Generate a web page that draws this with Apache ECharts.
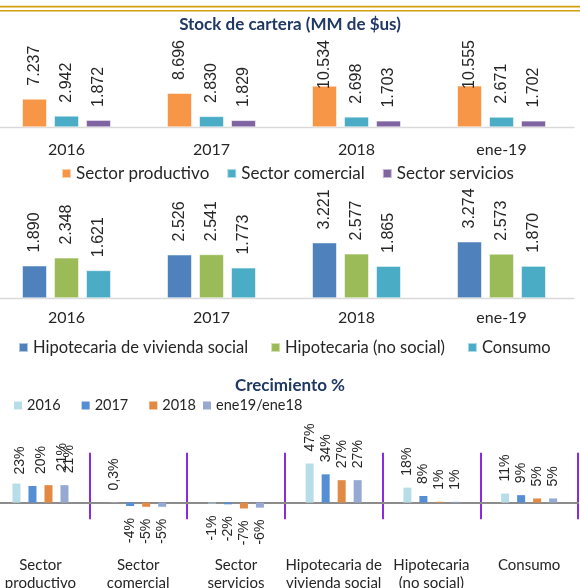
<!DOCTYPE html>
<html><head><meta charset="utf-8">
<script src="https://cdn.jsdelivr.net/npm/echarts@6/dist/echarts.min.js"></script>
<style>html,body{margin:0;padding:0;background:#fff}#c{width:580px;height:588px}</style>
</head><body><div id="c"></div>
<script>
// ---- data ----
const years = ['2016', '2017', '2018', 'ene-19'];
const stockTitle = 'Stock de cartera (MM de $us)';
const sectorProductivo = [7.237, 8.696, 10.534, 10.555];
const sectorComercial = [2.942, 2.830, 2.698, 2.671];
const sectorServicios = [1.872, 1.829, 1.703, 1.702];
const hipotecariaSocial = [1.890, 2.526, 3.221, 3.274];
const hipotecariaNoSocial = [2.348, 2.541, 2.577, 2.573];
const consumo = [1.621, 1.773, 1.865, 1.870];

const growthTitle = 'Crecimiento %';
const growthCategories = ['Sector\nproductivo', 'Sector\ncomercial', 'Sector\nservicios',
  'Hipotecaria de\nvivienda social', 'Hipotecaria\n(no social)', 'Consumo'];
const growth2016 = [23, 0.3, -1, 47, 18, 11];
const growth2017 = [20, -4, -2, 34, 8, 9];
const growth2018 = [21, -5, -7, 27, 1, 5];
const growthEne = [21, -5, -6, 27, 1, 5];

// ---- styling / layout ----
const LATO = 'Lato, "Noto Sans", sans-serif';
const ARIAL = '"Liberation Sans", Arial, sans-serif';
const labelColor = '#262626';
const GRIDS = [
  { left: -6, width: 580, top: 40, height: 87.3, min: 0, max: 22.1, clampTop: 40 },
  { left: -6, width: 580, top: 190, height: 108.3, min: 0, max: 6.24, clampTop: 188 },
  { left: -8.4, width: 586.4, top: 452.7, height: 66.6, min: -20, max: 60 }
];
const measureCtx = document.createElement('canvas').getContext('2d');
function textLen(s, px) { measureCtx.font = px + 'px "Liberation Sans"'; return measureCtx.measureText(s).width; }
function fmtStock(v) { return v.toFixed(3); }

function stockSeries(name, data, color, gi) {
  const g = GRIDS[gi];
  const ppu = g.height / (g.max - g.min);
  const base = g.top + g.height;
  const dist = 13;
  return {
    type: 'bar', name: name, xAxisIndex: gi, yAxisIndex: gi,
    barWidth: 25, barGap: '28%',
    itemStyle: { color: color, borderColor: 'rgba(255,255,255,0.55)', borderWidth: 1 },
    data: data.map(function (v) {
      const barTop = base - v * ppu;
      const labTop = barTop - dist - textLen(fmtStock(v), 16);
      const d = labTop < g.clampTop ? dist - (g.clampTop - labTop) : dist;
      return { value: v, label: { distance: d } };
    }),
    label: {
      show: true, position: 'top', rotate: 90, align: 'left', verticalAlign: 'middle',
      fontFamily: ARIAL, fontSize: 16, color: labelColor,
      formatter: function (p) { return fmtStock(p.value); }
    },
    silent: true, animation: false
  };
}

// label nudges [right, down] in screen pixels for the first group of the growth chart
const growthNudge = [[4, 3], [9, 0], [14, -2], [5, 0]];

function growthSeries(name, data, color, si) {
  return {
    type: 'bar', name: name, xAxisIndex: 2, yAxisIndex: 2,
    barWidth: 8, barGap: '100%',
    itemStyle: { color: color },
    data: data.map(function (v, i) {
      let lab;
      if (v < 0) {
        lab = { position: 'bottom', align: 'right' };
      } else {
        const n = i === 0 ? growthNudge[si] : [0, 0];
        // label is rotated 90deg: local x points up, local y points right
        lab = { position: 'top', align: 'left', offset: [-n[1], n[0]] };
      }
      return { value: v, label: lab };
    }),
    label: {
      show: true, rotate: 90, verticalAlign: 'middle', distance: 12,
      fontFamily: ARIAL, fontSize: 14, color: labelColor,
      formatter: function (p) { return String(p.value).replace('.', ',') + '%'; }
    },
    silent: true, animation: false
  };
}

function catAxis(gi, margin) {
  return {
    type: 'category', gridIndex: gi, data: years,
    axisLine: { lineStyle: { color: '#d9d9d9', width: 1.3 } },
    axisTick: { show: false },
    axisLabel: { fontFamily: LATO, fontSize: 16, color: labelColor, margin: margin }
  };
}
function legendText(size) { return { fontFamily: LATO, fontSize: size, color: labelColor }; }

const chart = echarts.init(document.getElementById('c'), null, { renderer: 'canvas' });
chart.setOption({
  animation: false,
  backgroundColor: '#ffffff',
  graphic: [
    { type: 'rect', shape: { x: 0, y: 5.8, width: 580, height: 1.6 }, style: { fill: '#d1a00d' } },
    { type: 'rect', shape: { x: 0, y: 9.9, width: 580, height: 1.6 }, style: { fill: '#d1a00d' } }
  ],
  title: [
    { text: stockTitle, left: 'center', top: 11,
      textStyle: { fontFamily: LATO, fontWeight: 'bold', fontSize: 17, color: '#1f3864' } },
    { text: growthTitle, left: 'center', top: 372,
      textStyle: { fontFamily: LATO, fontWeight: 'bold', fontSize: 17, color: '#1f3864' } }
  ],
  legend: [
    { data: ['Sector productivo', 'Sector comercial', 'Sector servicios'],
      left: 56, top: 160, icon: 'rect', itemWidth: 9, itemHeight: 9, itemGap: 17,
      textStyle: legendText(17) },
    { data: ['Hipotecaria de vivienda social', 'Hipotecaria (no social)', 'Consumo'],
      left: 13, top: 334, icon: 'rect', itemWidth: 9, itemHeight: 9, itemGap: 22,
      textStyle: legendText(16.5) },
    { data: ['2016', '2017', '2018'],
      left: 9, top: 393, icon: 'rect', itemWidth: 8, itemHeight: 8, itemGap: 21,
      textStyle: legendText(14.5) },
    { data: ['ene19/ene18'],
      left: 198, top: 393, icon: 'rect', itemWidth: 8, itemHeight: 8,
      textStyle: legendText(14.5) }
  ],
  grid: GRIDS.map(function (g) {
    return { left: g.left, width: g.width, top: g.top, height: g.height, outerBoundsMode: 'none', containLabel: false };
  }),
  xAxis: [
    catAxis(0, 15),
    catAxis(1, 12),
    {
      type: 'category', gridIndex: 2, data: growthCategories,
      axisLine: { onZero: true, lineStyle: { color: '#8c8c8c', width: 2 } },
      axisTick: { show: false },
      splitLine: { show: true, interval: 0, lineStyle: { color: '#8a2be2', width: 2 } },
      axisLabel: { interval: 0, fontFamily: LATO, fontSize: 15, lineHeight: 18, color: labelColor, margin: 37 }
    }
  ],
  yAxis: GRIDS.map(function (g, i) {
    return { type: 'value', gridIndex: i, min: g.min, max: g.max, show: false, splitLine: { show: false } };
  }),
  series: [
    stockSeries('Sector productivo', sectorProductivo, '#f79646', 0),
    stockSeries('Sector comercial', sectorComercial, '#4bacc6', 0),
    stockSeries('Sector servicios', sectorServicios, '#8064a2', 0),
    stockSeries('Hipotecaria de vivienda social', hipotecariaSocial, '#4f81bd', 1),
    stockSeries('Hipotecaria (no social)', hipotecariaNoSocial, '#9bbb59', 1),
    stockSeries('Consumo', consumo, '#4bacc6', 1),
    growthSeries('2016', growth2016, '#b7dee8', 0),
    growthSeries('2017', growth2017, '#558ed5', 1),
    growthSeries('2018', growth2018, '#e28a43', 2),
    growthSeries('ene19/ene18', growthEne, '#95a9d3', 3)
  ]
});
</script>
</body></html>
